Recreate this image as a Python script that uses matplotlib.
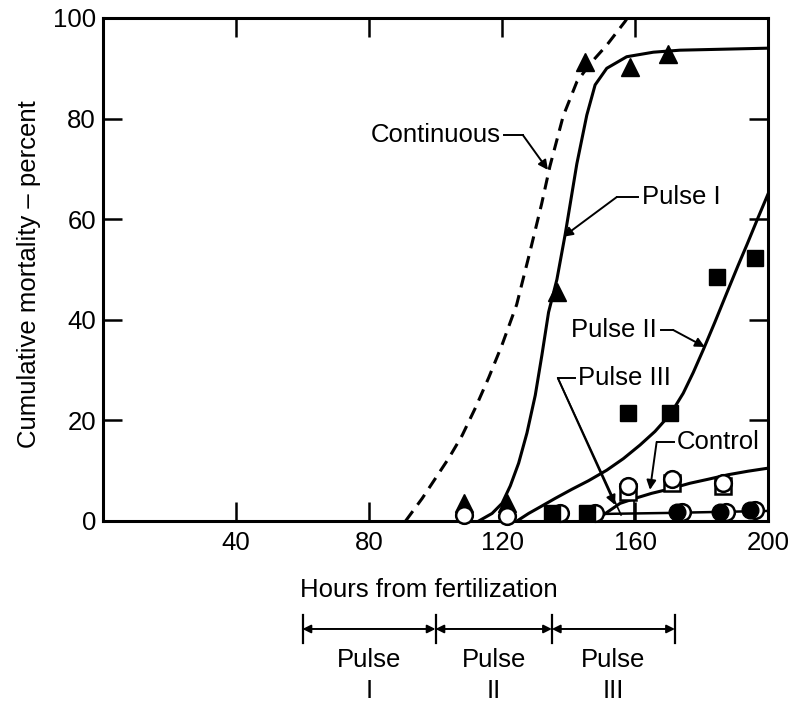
import numpy as np
import matplotlib.pyplot as plt

plt.rcParams['font.family'] = ['Liberation Sans', 'DejaVu Sans']

# fitted curves (hours, percent)
cont_x = [91, 96, 100, 104, 108, 112, 116, 120, 124.4, 128.4, 131.9, 134.4, 138.4, 142.5, 146.5, 151.5, 157, 157.7]
cont_y = [0, 4.5, 8.5, 12.5, 17, 22.5, 28.5, 35, 43, 53.5, 63, 70.5, 80.5, 87.3, 90.9, 94.6, 99.3, 100]

p1_x = [113, 117, 120, 122.5, 125, 127.5, 130, 132, 134, 136.5, 139, 142.5, 145.5, 148, 151.5, 157.5, 165.5, 173.5, 200]
p1_y = [0, 1.5, 3.5, 7, 11.5, 17.5, 25, 33, 41.5, 48, 57, 71, 80.7, 86.7, 90, 92.3, 93.2, 93.6, 94]

p2_x = [124.5, 128, 131.5, 136, 141, 146, 151.5, 156.5, 161.5, 166, 169.5, 172, 174.5, 177.5, 180.5, 184, 187.7, 191, 193.7, 197, 200]
p2_y = [0, 1.5, 2.8, 4.5, 6.3, 8, 10.1, 12.4, 15.1, 17.8, 20.4, 22.7, 25.4, 29.5, 34, 39.5, 45.5, 50.8, 55, 60.3, 65]

p3_x = [150, 170, 185, 200]
p3_y = [1.4, 1.6, 1.8, 2.0]

ctrl_x = [150, 155.5, 160, 165, 170, 176.5, 182, 188, 194, 200]
ctrl_y = [1, 3.5, 4.5, 5.5, 6.3, 7.5, 8.3, 9.2, 9.9, 10.5]

# observed points
tri_x = [108.5, 121.5, 136.4, 145, 158.5, 170]
tri_y = [3.5, 3.5, 45.6, 91.3, 90.3, 92.8]

sq_x = [135, 145.5, 158, 170.5, 184.7, 196]
sq_y = [1.5, 1.5, 21.5, 21.5, 48.5, 52.3]

osq_x = [158, 171, 186.5]
osq_y = [5.8, 7.6, 6.9]

oc_x = [108.5, 121.5, 137.5, 148, 158, 171, 186.5, 174, 187.5, 196]
oc_y = [1.2, 1.0, 1.5, 1.5, 7.0, 8.3, 7.6, 1.8, 1.8, 2.2]

fc_x = [172.5, 185.5, 194.5]
fc_y = [1.8, 1.8, 2.2]

# exposure periods below the axis
pulse_edges = [60, 100, 135, 172]
pulse_nums = ['I', 'II', 'III']

fig = plt.figure(figsize=(7.93, 7.03), dpi=100)
ax = fig.add_axes([0.1299, 0.2589, 0.8386, 0.7155])

lw = 2.2
ax.plot(cont_x, cont_y, color='black', lw=lw, linestyle=(0, (4, 2.6)))
ax.plot(p1_x, p1_y, color='black', lw=lw)
ax.plot(p2_x, p2_y, color='black', lw=lw)
ax.plot(p3_x, p3_y, color='black', lw=1.8)
ax.plot(ctrl_x, ctrl_y, color='black', lw=lw)
ax.plot([159.8, 159.8], [0, 5.5], color='black', lw=1.2)

ax.plot(tri_x, tri_y, '^', color='black', ms=13, clip_on=False, zorder=3)
ax.plot(osq_x, osq_y, 's', mfc='white', mec='black', mew=1.8, ms=11, clip_on=False, zorder=3)
ax.plot(oc_x, oc_y, 'o', mfc='white', mec='black', mew=1.8, ms=12, clip_on=False, zorder=4)
ax.plot(sq_x, sq_y, 's', color='black', ms=11, clip_on=False, zorder=5)
ax.plot(fc_x, fc_y, 'o', color='black', ms=12, clip_on=False, zorder=5)

fs = 18.5
arr = dict(arrowstyle='-|>', color='black', lw=1.4, mutation_scale=14, shrinkA=0, shrinkB=0)

# Continuous
ax.text(119.5, 76.7, 'Continuous', fontsize=fs, ha='right', va='center')
ax.plot([120.5, 126.3], [76.7, 76.7], color='black', lw=1.4)
ax.annotate('', xy=(133.8, 69.8), xytext=(126.3, 76.7), arrowprops=arr)

# Pulse I
ax.text(162, 64.4, 'Pulse I', fontsize=fs, ha='left', va='center')
ax.plot([160.8, 154.5], [64.4, 64.4], color='black', lw=1.4)
ax.annotate('', xy=(138.4, 56.5), xytext=(154.5, 64.4), arrowprops=arr)

# Pulse II
ax.text(166.6, 38, 'Pulse II', fontsize=fs, ha='right', va='center')
ax.plot([167.8, 171.4], [38, 38], color='black', lw=1.4)
ax.annotate('', xy=(181, 34.6), xytext=(171.4, 38), arrowprops=arr)

# Pulse III
ax.text(142.9, 28.4, 'Pulse III', fontsize=fs, ha='left', va='center')
ax.plot([141.8, 136.8], [28.4, 28.4], color='black', lw=1.4)
ax.plot([136.8, 155.8], [28.4, 1.2], color='black', lw=1.2)
ax.annotate('', xy=(154.0, 3.2), xytext=(136.8, 28.4), arrowprops=arr)

# Control
ax.text(172.6, 15.7, 'Control', fontsize=fs, ha='left', va='center')
ax.plot([171.8, 166.5], [15.7, 15.7], color='black', lw=1.4)
ax.annotate('', xy=(164.5, 6.2), xytext=(166.5, 15.7), arrowprops=arr)

ax.set_xlim(0, 200)
ax.set_ylim(0, 100)
ax.set_xticks([40, 80, 120, 160, 200])
ax.set_yticks([0, 20, 40, 60, 80, 100])
ax.tick_params(direction='in', length=14, width=1.8, top=True, right=True,
               labelsize=fs, pad=7)
ax.tick_params(axis='y', pad=5)
for s in ax.spines.values():
    s.set_linewidth(2.2)

ax.text(0.49, -0.137, 'Hours from fertilization', transform=ax.transAxes,
        fontsize=fs, ha='center', va='center')
ax.text(-0.112, 0.49, 'Cumulative mortality \u2013 percent', transform=ax.transAxes,
        fontsize=fs, ha='center', va='center', rotation=90)

# pulse brackets under the x axis
trans = ax.get_xaxis_transform()
yb = -0.2147
for e in pulse_edges:
    ax.plot([e, e], [-0.187, -0.243], color='black', lw=1.6, transform=trans, clip_on=False)
for i in range(len(pulse_nums)):
    a, b = pulse_edges[i], pulse_edges[i + 1]
    ax.annotate('', xy=(a, yb), xytext=(b, yb), xycoords=trans, textcoords=trans,
                arrowprops=dict(arrowstyle='<|-|>', color='black', lw=1.4,
                                mutation_scale=12, shrinkA=0, shrinkB=0))
    ax.text((a + b) / 2, -0.276, 'Pulse', transform=trans, fontsize=fs,
            ha='center', va='center')
    ax.text((a + b) / 2, -0.3375, pulse_nums[i], transform=trans, fontsize=fs,
            ha='center', va='center')

fig.savefig('out.png', dpi=100)
